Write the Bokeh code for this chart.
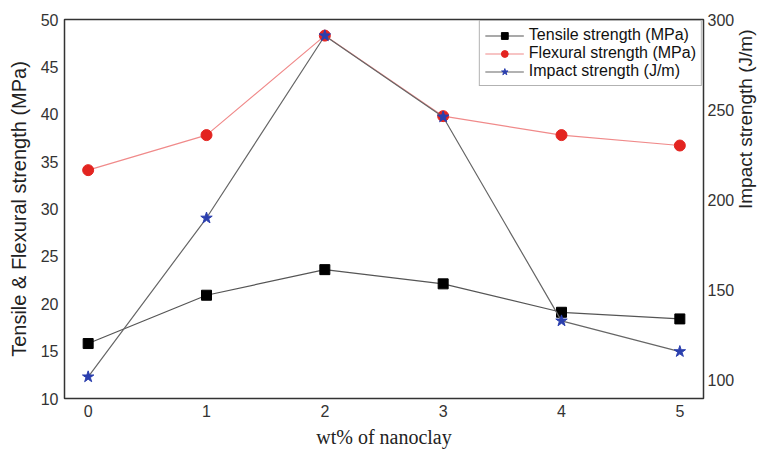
import math
from bokeh.plotting import figure
from bokeh.models import Range1d, LinearAxis, FixedTicker, Legend, LegendItem
from bokeh.embed import file_html
from bokeh.resources import INLINE

nanoclay = [0, 1, 2, 3, 4, 5]
tensile = [15.8, 20.9, 23.6, 22.1, 19.1, 18.4]
flexural = [34.1, 37.8, 48.3, 39.8, 37.8, 36.7]
impact = [102, 190, 291, 246, 133, 116]

left_ticks = [10, 15, 20, 25, 30, 35, 40, 45, 50]
right_ticks = [100, 150, 200, 250, 300]
x_ticks = [0, 1, 2, 3, 4, 5]

FONT = "Liberation Sans"

p = figure(output_backend="svg", toolbar_location=None,
           frame_width=639, frame_height=379,
           min_border_left=64, min_border_top=19, min_border_right=54, min_border_bottom=50,
           x_range=Range1d(-0.2, 5.2), y_range=Range1d(10, 50))
p.extra_y_ranges = {"impact": Range1d(90, 300)}
p.grid.visible = False
p.outline_line_color = "#333333"
p.outline_line_width = 1.5
p.background_fill_color = "white"
p.border_fill_color = "white"

p.xaxis.ticker = FixedTicker(ticks=x_ticks)
p.yaxis.ticker = FixedTicker(ticks=left_ticks)
p.xaxis.axis_label = "wt% of nanoclay"
p.xaxis.axis_label_text_font = "Liberation Serif"
p.yaxis.axis_label = "Tensile & Flexural strength (MPa)"
p.yaxis.axis_label_text_font = FONT

right = LinearAxis(y_range_name="impact", ticker=FixedTicker(ticks=right_ticks),
                   axis_label="Impact strength (J/m)")
p.add_layout(right, "right")

for ax in [p.xaxis[0], p.yaxis[0], right]:
    ax.axis_line_color = None
    ax.major_tick_in = 0
    ax.major_tick_out = 0
    ax.minor_tick_in = 0
    ax.minor_tick_out = 0
    ax.major_label_text_font = FONT
    ax.major_label_text_font_size = "16px"
    ax.major_label_text_color = "#333333"
    ax.axis_label_text_font_size = "20px"
    ax.axis_label_text_font_style = "normal"
    ax.axis_label_text_color = "#222222"

p.yaxis[0].major_label_standoff = 6
p.yaxis[0].axis_label_standoff = 8
p.xaxis[0].major_label_standoff = 6
p.xaxis[0].axis_label_standoff = 6
right.major_label_standoff = 4
right.axis_label_standoff = 8
right.axis_label_text_font_size = "19px"
right.axis_label_orientation = math.pi / 2
right.axis_label_text_align = "center"
right.axis_label_text_baseline = "middle"

l1 = p.line(nanoclay, tensile, line_color="#555555", line_width=1.2)
s1 = p.scatter(nanoclay, tensile, marker="square", size=10, fill_color="black", line_color="black")
l2 = p.line(nanoclay, flexural, line_color="#f08a8a", line_width=1.2)
s2 = p.scatter(nanoclay, flexural, marker="circle", size=11, fill_color="#e32420", line_color="#e32420")
l3 = p.line(nanoclay, impact, line_color="#666666", line_width=1.2, y_range_name="impact")
s3 = p.scatter(nanoclay, impact, marker="star", size=12, fill_color="#2b3fae", line_color="#2b3fae",
               y_range_name="impact")

legend = Legend(items=[
    LegendItem(label="Tensile strength (MPa)", renderers=[l1, s1]),
    LegendItem(label="Flexural strength (MPa)", renderers=[l2, s2]),
    LegendItem(label="Impact strength (J/m)", renderers=[l3, s3]),
], location="top_right")
legend.label_text_font = FONT
legend.label_text_font_size = "16px"
legend.label_text_color = "#111111"
legend.glyph_width = 39
legend.glyph_height = 17
legend.label_height = 17
legend.label_standoff = 5
legend.spacing = 0
legend.padding = 5
legend.margin = 1
legend.border_line_color = "#666666"
legend.border_line_width = 1.5
legend.background_fill_alpha = 1
p.add_layout(legend)

open("out.html", "w").write(file_html(p, INLINE))
